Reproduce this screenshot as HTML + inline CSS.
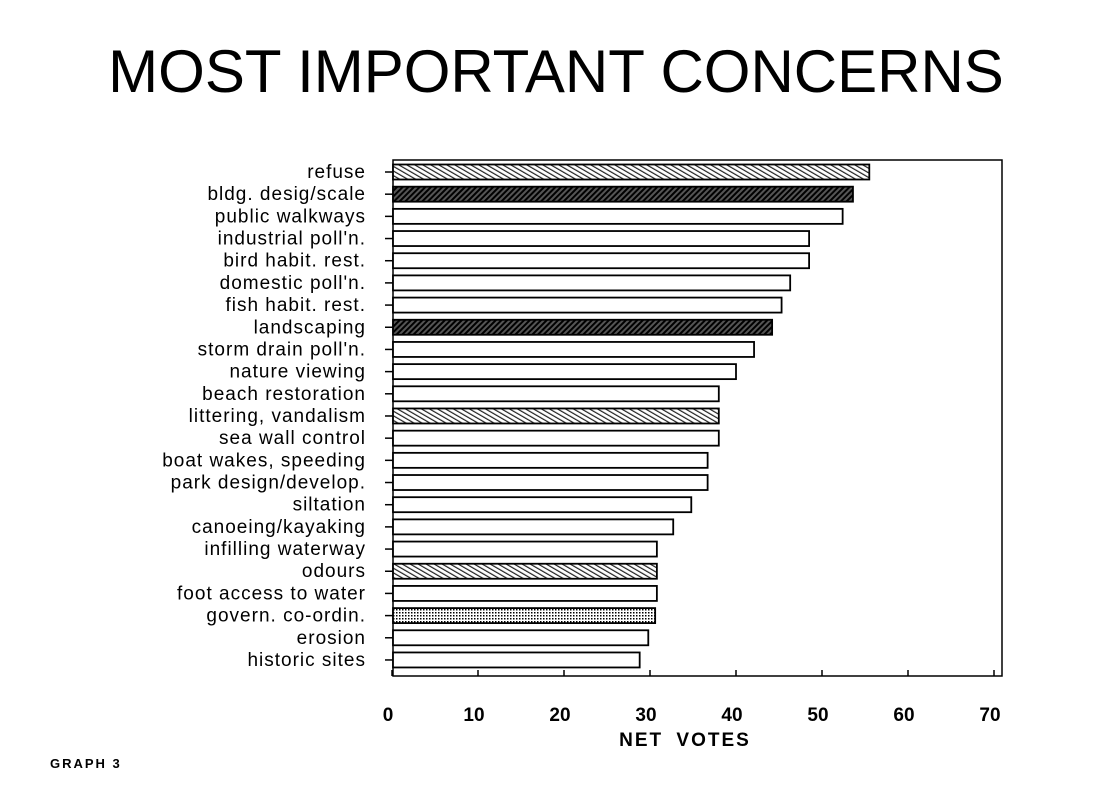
<!DOCTYPE html>
<html><head><meta charset="utf-8">
<style>
body{margin:0;background:#fff;width:1104px;height:800px;overflow:hidden;font-family:"Liberation Sans",sans-serif;}
</style></head>
<body>
<svg width="1104" height="800" xmlns="http://www.w3.org/2000/svg">
<defs>
<pattern id="light" width="4" height="4" patternUnits="userSpaceOnUse" patternTransform="rotate(-60)"><rect width="4" height="4" fill="#fff"/><rect width="1.2" height="4" fill="#222"/></pattern>
<pattern id="dark" width="4" height="4" patternUnits="userSpaceOnUse" patternTransform="rotate(45)"><rect width="4" height="4" fill="#555"/><rect width="2" height="4" fill="#000"/></pattern>
<pattern id="dots" width="3" height="3" patternUnits="userSpaceOnUse"><rect width="3" height="3" fill="#fff"/><rect width="1.5" height="1.5" fill="#000"/></pattern>
</defs>
<text x="556" y="92" text-anchor="middle" font-size="60" fill="#000">MOST IMPORTANT CONCERNS</text>
<g id="plot"></g>
<text x="50" y="768" font-size="13" font-weight="bold" letter-spacing="2" fill="#000">GRAPH 3</text>
</svg>
<script>
const categories=["refuse","bldg. desig/scale","public walkways","industrial poll'n.","bird habit. rest.","domestic poll'n.","fish habit. rest.","landscaping","storm drain poll'n.","nature viewing","beach restoration","littering, vandalism","sea wall control","boat wakes, speeding","park design/develop.","siltation","canoeing/kayaking","infilling waterway","odours","foot access to water","govern. co-ordin.","erosion","historic sites"];
const values=[55.5,53.6,52.4,48.5,48.5,46.3,45.3,44.2,42.1,40,38,38,38,36.7,36.7,34.8,32.7,30.8,30.8,30.8,30.6,29.8,28.8];
const fills=["light","dark","none","none","none","none","none","dark","none","none","none","light","none","none","none","none","none","none","light","none","dots","none","none"];
const ticks=[0,10,20,30,40,50,60,70];
const NS="http://www.w3.org/2000/svg";
const g=document.getElementById('plot');
const x0=392,sc=8.6,ptop=160,pbottom=676,pleft=393,pright=1002,y0=172,step=22.18,bh=15;
const xs=v=>x0+v*sc, ys=i=>y0+i*step;
function mk(t,a){const e=document.createElementNS(NS,t);for(const k in a)e.setAttribute(k,a[k]);g.appendChild(e);return e;}
const frame=mk('rect',{x:pleft,y:ptop,width:pright-pleft,height:pbottom-ptop,fill:'none',stroke:'#000','stroke-width':1.5});


categories.forEach((c,i)=>{
  const y=ys(i);
  const t=mk('text',{x:366,y:y+6,'text-anchor':'end','font-size':19,'letter-spacing':'1',fill:'#000'});
  t.textContent=c;
  
  
  const tk=mk('line',{x1:pleft-8,x2:pleft,y1:y,y2:y,stroke:'#000','stroke-width':1.5});
  
  
  const f=fills[i]==='none'?'#fff':'url(#'+fills[i]+')';
  const r=mk('rect',{x:pleft,y:y-bh/2,width:xs(values[i])-pleft,height:bh,fill:f,stroke:'#000','stroke-width':1.8});
  
  
});
ticks.forEach(v=>{
  const x=xs(v);
  const l=mk('line',{x1:x,x2:x,y1:pbottom,y2:pbottom-6,stroke:'#000','stroke-width':1.5});
  
  
  const t=mk('text',{x:x-4,y:721,'text-anchor':'middle','font-size':19,'font-weight':'bold',fill:'#000'});
  t.textContent=v;
  
  
});
const xt=mk('text',{x:685,y:746,'text-anchor':'middle','font-size':19,'font-weight':'bold','letter-spacing':'2',fill:'#000','word-spacing':'6'});
xt.textContent='NET VOTES';


</script>
</body></html>
